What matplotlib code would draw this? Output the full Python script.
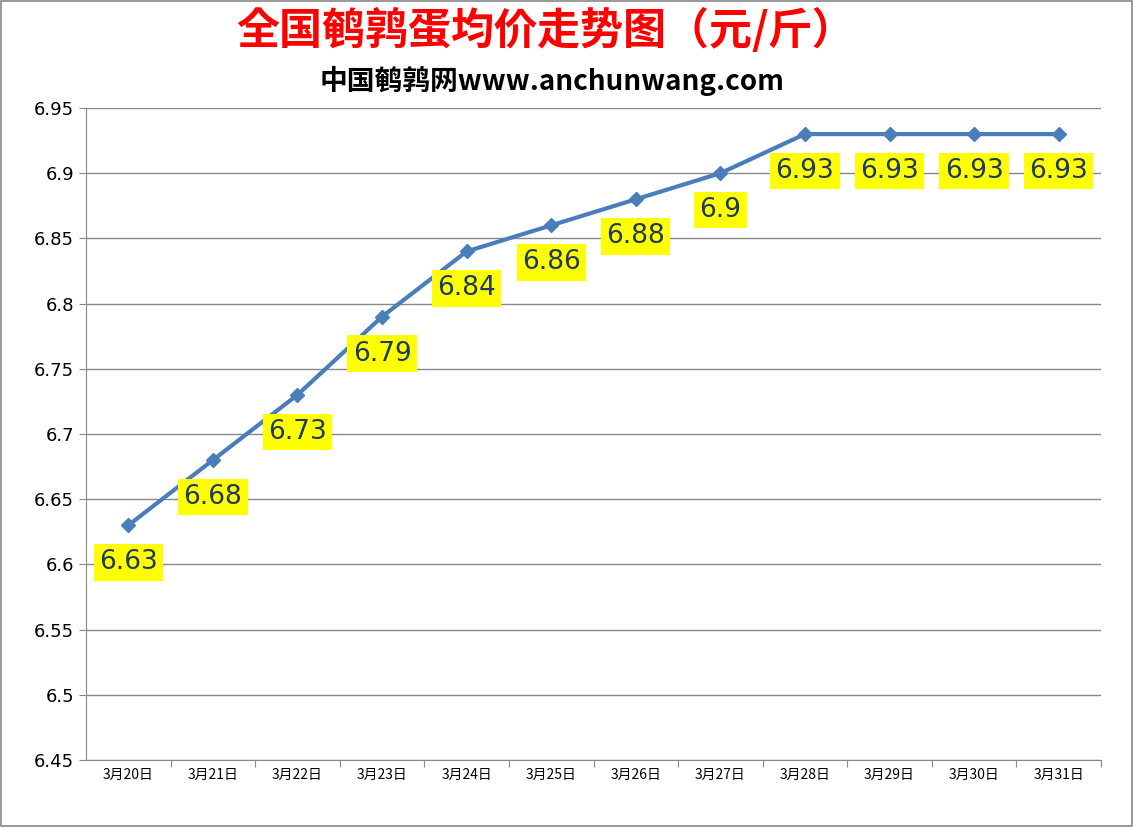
import matplotlib
matplotlib.use("Agg")
import matplotlib.pyplot as plt
from matplotlib.patches import Rectangle
from matplotlib import font_manager as fm

dates = ["3月20日","3月21日","3月22日","3月23日","3月24日","3月25日","3月26日","3月27日","3月28日","3月29日","3月30日","3月31日"]
prices = [6.63, 6.68, 6.73, 6.79, 6.84, 6.86, 6.88, 6.9, 6.93, 6.93, 6.93, 6.93]
labels = ["6.63","6.68","6.73","6.79","6.84","6.86","6.88","6.9","6.93","6.93","6.93","6.93"]
yticks = [6.45,6.5,6.55,6.6,6.65,6.7,6.75,6.8,6.85,6.9,6.95]
ytick_labels = ["6.45","6.5","6.55","6.6","6.65","6.7","6.75","6.8","6.85","6.9","6.95"]

cjk = None
for f in fm.findSystemFonts():
    if "CJK" in f or "cjk" in f.lower():
        try:
            fm.fontManager.addfont(f)
        except Exception:
            pass
names = sorted({f.name for f in fm.fontManager.ttflist if "CJK" in f.name})
fams = [n for n in ["Noto Sans CJK SC", "Noto Sans CJK JP", "Noto Sans CJK TC", "Noto Sans CJK KR"] if n in names] + names + ["DejaVu Sans"]

W, H = 1133, 827
fig = plt.figure(figsize=(W/100, H/100), dpi=100)
fig.patches.append(Rectangle((0.001, 0.001), 0.998, 0.998, transform=fig.transFigure,
                             fill=False, edgecolor="#888888", lw=1.2))
ax = fig.add_axes([86/W, 1-760/H, (1101-86)/W, (760-108)/H])
x = list(range(len(dates)))
ax.plot(x, prices, color="#4a7ebb", lw=3, marker="D", markersize=7, zorder=3)
ax.set_xlim(-0.5, len(dates)-0.5)
ax.set_ylim(6.45, 6.95)
ax.set_yticks(yticks)
ax.set_yticklabels(ytick_labels, fontsize=13)
ax.set_xticks([i+0.5 for i in range(len(dates))], minor=False)
ax.set_xticklabels([])
ax.set_xticks(x, minor=True)
ax.set_xticklabels(dates, minor=True, fontsize=10, fontfamily=fams)
ax.tick_params(axis="x", which="minor", length=0, pad=6)
ax.tick_params(axis="x", which="major", length=5, color="#888888")
ax.tick_params(axis="y", length=5, color="#888888")
ax.grid(axis="y", color="#888888", lw=1)
for s in ["top", "right"]:
    ax.spines[s].set_visible(False)
for s in ["left", "bottom"]:
    ax.spines[s].set_color("#888888")
for xi, p, l in zip(x, prices, labels):
    ax.annotate(l, (xi, p), xytext=(0, -37), textcoords="offset pixels",
                ha="center", va="center", fontsize=19, color="#1f3864",
                bbox=dict(boxstyle="square,pad=0.2", fc="#ffff00", ec="none"), zorder=4)
fig.text(545/W, 1-30/H, "全国鹌鹑蛋均价走势图（元/斤）", ha="center", va="center",
         fontsize=31, color="#ff0000", fontweight="bold", fontfamily=fams)
fig.text(552/W, 1-81/H, "中国鹌鹑网www.anchunwang.com", ha="center", va="center",
         fontsize=20, color="black", fontweight="bold", fontfamily=fams)
fig.savefig("out.png", dpi=100)
